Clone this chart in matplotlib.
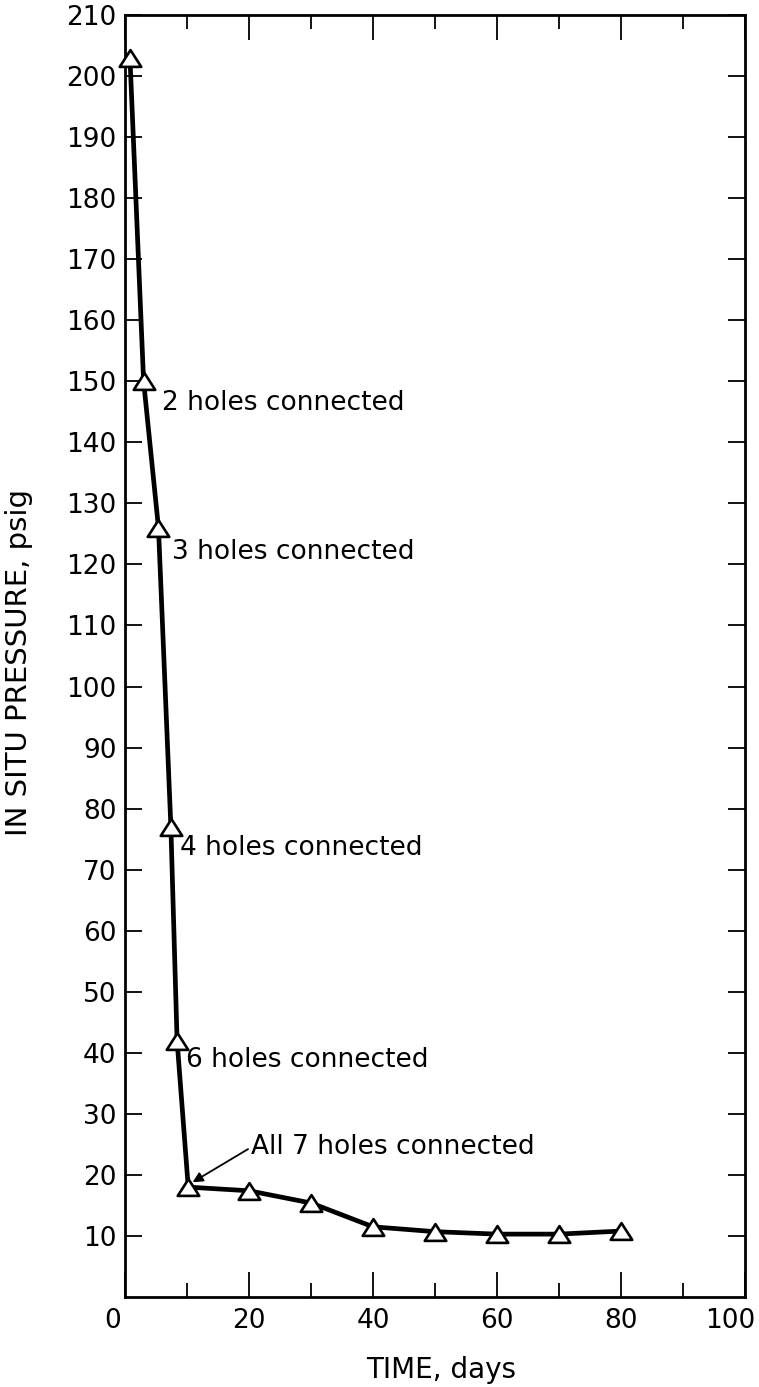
import matplotlib
matplotlib.use("Agg")
import matplotlib.pyplot as plt
from matplotlib.path import Path
from matplotlib.ticker import MultipleLocator
from matplotlib.transforms import ScaledTranslation

# Data
time_days = [0.8, 3.0, 5.4, 7.4, 8.4, 10.2, 20, 30, 40, 50, 60, 70, 80]
pressure_psig = [203, 150, 126, 77, 42, 18, 17.4, 15.4, 11.5, 10.7, 10.3, 10.3, 10.8]

ann_texts = ["2 holes connected", "3 holes connected", "4 holes connected",
             "6 holes connected"]
ann_x = [5.9, 7.5, 8.9, 9.9]
ann_y = [146.5, 122, 73.5, 38.8]

all7_text = "All 7 holes connected"
all7_xy_text = (20.3, 24.5)
all7_xy_point = (10.9, 18.8)

x_major = [0, 20, 40, 60, 80, 100]
y_ticks = list(range(10, 211, 10))

plt.rcParams['font.family'] = ['DejaVu Sans']

fig = plt.figure(figsize=(7.59, 13.87), dpi=100)
ax = fig.add_axes([125 / 759, 1 - 1297 / 1387, 620 / 759, 1282 / 1387])

tri = Path([(-1.0, -0.78), (1.0, -0.78), (0.0, 0.78), (-1.0, -0.78)],
           [Path.MOVETO, Path.LINETO, Path.LINETO, Path.CLOSEPOLY])

ax.plot(time_days, pressure_psig, color='black', lw=3.4, zorder=2,
        solid_joinstyle='round', clip_on=False)
ax.plot(time_days, pressure_psig, linestyle='none', marker=tri, ms=15.5,
        mfc='white', mec='black', mew=1.9, zorder=3, clip_on=False)

for t, x, y in zip(ann_texts, ann_x, ann_y):
    ax.text(x, y, t, fontsize=19, ha='left', va='center', color='black')

ax.annotate(all7_text, xy=all7_xy_point, xytext=all7_xy_text,
            fontsize=19, ha='left', va='center',
            arrowprops=dict(arrowstyle='-|>', color='black', lw=1.3,
                            mutation_scale=15, shrinkA=0, shrinkB=0,
                            relpos=(0, 0.5)))

ax.set_xlim(0, 100)
ax.set_ylim(0, 210)
ax.set_xticks(x_major)
ax.xaxis.set_minor_locator(MultipleLocator(10))
ax.set_yticks(y_ticks)
ax.tick_params(axis='x', which='major', direction='in', length=18, width=1.3,
               top=True, bottom=True, labelsize=19, pad=8)
ax.tick_params(axis='x', which='minor', direction='in', length=10, width=1.3,
               top=True, bottom=True)
ax.tick_params(axis='y', which='major', direction='in', length=12, width=1.3,
               left=True, right=True, labelsize=19, pad=6)

for s in ax.spines.values():
    s.set_linewidth(2.0)

# the reference places the end labels slightly to the left
ticks = ax.xaxis.get_major_ticks()
ticks[0].label1.set_transform(ticks[0].label1.get_transform()
                              + ScaledTranslation(-0.12, 0, fig.dpi_scale_trans))
ticks[-1].label1.set_transform(ticks[-1].label1.get_transform()
                               + ScaledTranslation(-0.15, 0, fig.dpi_scale_trans))

ax.set_xlabel("TIME, days", fontsize=20)
ax.set_ylabel("IN SITU PRESSURE, psig", fontsize=21)
ax.xaxis.set_label_coords(0.51, -0.046)
ax.yaxis.set_label_coords(-0.148, 0.495)

fig.savefig("out.png", dpi=100, facecolor='white')
